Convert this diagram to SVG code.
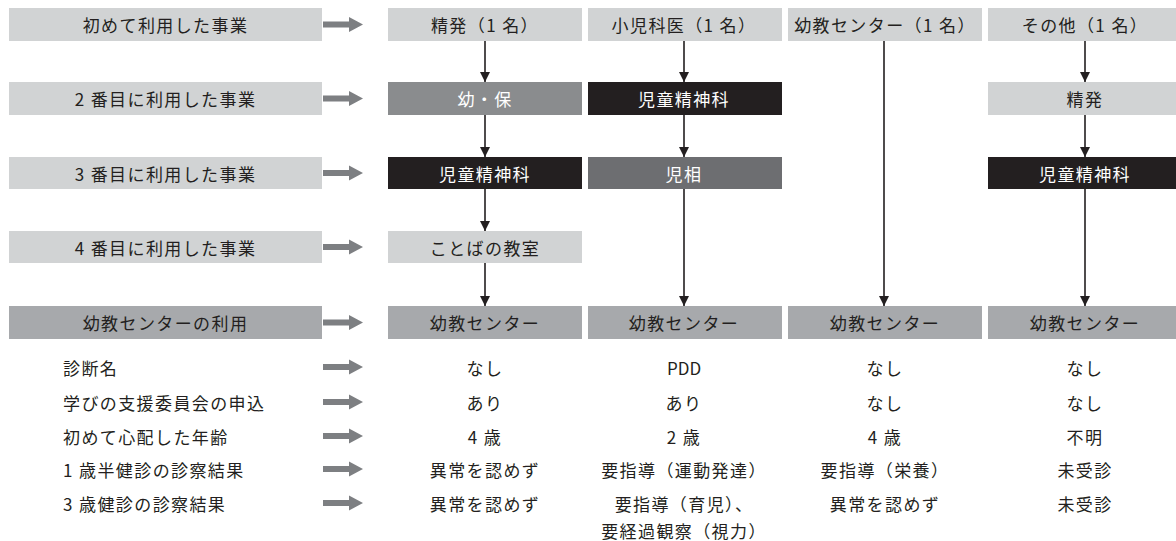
<svg xmlns="http://www.w3.org/2000/svg" width="1176" height="541" viewBox="0 0 1176 541">
<style>
.bg{fill:#ffffff}
.lt{fill:#d1d3d4}
.md{fill:#a7a9ac}
.g2{fill:#8a8c8e}
.dk{fill:#6d6e71}
.bk{fill:#231f20}
.t{font-family:"Noto Sans CJK JP","Noto Sans",sans-serif;font-size:17px;letter-spacing:1.4px;fill:#231f20;dominant-baseline:central}
.c{text-anchor:middle}
.w{fill:#ffffff}
.ns{letter-spacing:0}
.ln{stroke:#231f20;stroke-width:1.6;fill:none;marker-end:url(#ah)}
.ga{fill:#7d7f82}
</style>
<defs>
<marker id="ah" markerUnits="userSpaceOnUse" markerWidth="11" markerHeight="11" refX="10" refY="5" orient="auto">
<path d="M0,0 L10,5 L0,10 Z" fill="#231f20"/>
</marker>
<path id="ga" d="M0,-3 H26 V-7.5 L40,0 L26,7.5 V3 H0 Z"/>
</defs>
<rect class="bg" x="0" y="0" width="1176" height="541"/>

<g id="row-labels">
<g id="lbl1"><rect class="lt" x="9" y="8" width="313" height="33"/><text class="t c" x="165.5" y="24.5">初めて利用した事業</text></g>
<g id="lbl2"><rect class="lt" x="9" y="82" width="313" height="33"/><text class="t c" x="165.5" y="98.5">2 番目に利用した事業</text></g>
<g id="lbl3"><rect class="lt" x="9" y="157" width="313" height="32"/><text class="t c" x="165.5" y="173">3 番目に利用した事業</text></g>
<g id="lbl4"><rect class="lt" x="9" y="231" width="313" height="32"/><text class="t c" x="165.5" y="247">4 番目に利用した事業</text></g>
<g id="lbl5"><rect class="md" x="9" y="306" width="313" height="33"/><text class="t c" x="165.5" y="322.5">幼教センターの利用</text></g>
</g>

<g id="r1c1"><rect class="lt" x="388" y="8" width="194" height="33"/><text class="t c" x="485" y="24.5">精発（1 名）</text></g>
<g id="r1c2"><rect class="lt" x="588" y="8" width="194" height="33"/><text class="t c" x="684" y="24.5">小児科医（1 名）</text></g>
<g id="r1c3"><rect class="lt" x="788" y="8" width="194" height="33"/><text class="t c" x="885" y="24.5">幼教センター（1 名）</text></g>
<g id="r1c4"><rect class="lt" x="988" y="8" width="194" height="33"/><text class="t c" x="1085" y="24.5">その他（1 名）</text></g>

<g id="r2c1"><rect class="g2" x="388" y="82" width="194" height="33"/><text class="t c w" x="485" y="98.5">幼・保</text></g>
<g id="r2c2"><rect class="bk" x="588" y="82" width="194" height="33"/><text class="t c w" x="684" y="98.5">児童精神科</text></g>
<g id="r2c4"><rect class="lt" x="988" y="82" width="194" height="33"/><text class="t c" x="1085" y="98.5">精発</text></g>

<g id="r3c1"><rect class="bk" x="388" y="157" width="194" height="32"/><text class="t c w" x="485" y="173">児童精神科</text></g>
<g id="r3c2"><rect class="dk" x="588" y="157" width="194" height="32"/><text class="t c w" x="684" y="173">児相</text></g>
<g id="r3c4"><rect class="bk" x="988" y="157" width="194" height="32"/><text class="t c w" x="1085" y="173">児童精神科</text></g>

<g id="r4c1"><rect class="lt" x="388" y="231" width="194" height="32"/><text class="t c" x="485" y="247">ことばの教室</text></g>

<g id="r5c1"><rect class="md" x="388" y="306" width="194" height="33"/><text class="t c" x="485" y="322.5">幼教センター</text></g>
<g id="r5c2"><rect class="md" x="588" y="306" width="194" height="33"/><text class="t c" x="684" y="322.5">幼教センター</text></g>
<g id="r5c3"><rect class="md" x="788" y="306" width="194" height="33"/><text class="t c" x="885" y="322.5">幼教センター</text></g>
<g id="r5c4"><rect class="md" x="988" y="306" width="194" height="33"/><text class="t c" x="1085" y="322.5">幼教センター</text></g>

<g id="connectors">
<use href="#ga" class="ga" x="323" y="24.5"/>
<use href="#ga" class="ga" x="323" y="98.5"/>
<use href="#ga" class="ga" x="323" y="173"/>
<use href="#ga" class="ga" x="323" y="247"/>
<use href="#ga" class="ga" x="323" y="322.5"/>
<use href="#ga" class="ga" x="323" y="367"/>
<use href="#ga" class="ga" x="323" y="402"/>
<use href="#ga" class="ga" x="323" y="436"/>
<use href="#ga" class="ga" x="323" y="469"/>
<use href="#ga" class="ga" x="323" y="503"/>
<line class="ln" x1="485" y1="41" x2="485" y2="82"/>
<line class="ln" x1="485" y1="115" x2="485" y2="157"/>
<line class="ln" x1="485" y1="189" x2="485" y2="231"/>
<line class="ln" x1="485" y1="263" x2="485" y2="306"/>
<line class="ln" x1="684" y1="41" x2="684" y2="82"/>
<line class="ln" x1="684" y1="115" x2="684" y2="157"/>
<line class="ln" x1="684" y1="189" x2="684" y2="306"/>
<line class="ln" x1="884" y1="41" x2="884" y2="306"/>
<line class="ln" x1="1085" y1="41" x2="1085" y2="82"/>
<line class="ln" x1="1085" y1="115" x2="1085" y2="157"/>
<line class="ln" x1="1085" y1="189" x2="1085" y2="306"/>
</g>

<g id="attributes">
<text class="t" x="63" y="367">診断名</text>
<text class="t" x="63" y="402">学びの支援委員会の申込</text>
<text class="t" x="63" y="436">初めて心配した年齢</text>
<text class="t" x="63" y="469">1 歳半健診の診察結果</text>
<text class="t" x="63" y="503">3 歳健診の診察結果</text>

<text class="t c" x="485" y="367">なし</text>
<text class="t c" x="485" y="402">あり</text>
<text class="t c" x="485" y="436">4 歳</text>
<text class="t c" x="485" y="469">異常を認めず</text>
<text class="t c" x="485" y="503">異常を認めず</text>

<text class="t c ns" x="684" y="367">PDD</text>
<text class="t c" x="684" y="402">あり</text>
<text class="t c" x="684" y="436">2 歳</text>
<text class="t c" x="684" y="469">要指導（運動発達）</text>
<text class="t c" x="684" y="503">要指導（育児）、</text>
<text class="t c" x="684" y="530">要経過観察（視力）</text>

<text class="t c" x="885" y="367">なし</text>
<text class="t c" x="885" y="402">なし</text>
<text class="t c" x="885" y="436">4 歳</text>
<text class="t c" x="885" y="469">要指導（栄養）</text>
<text class="t c" x="885" y="503">異常を認めず</text>

<text class="t c" x="1085" y="367">なし</text>
<text class="t c" x="1085" y="402">なし</text>
<text class="t c" x="1085" y="436">不明</text>
<text class="t c" x="1085" y="469">未受診</text>
<text class="t c" x="1085" y="503">未受診</text>
</g>
</svg>
